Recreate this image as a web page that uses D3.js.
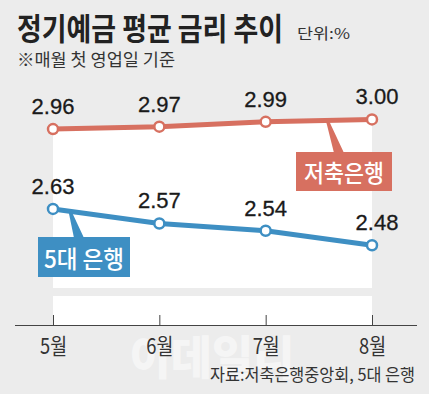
<!DOCTYPE html>
<html>
<head>
<meta charset="utf-8">
<script src="https://cdn.jsdelivr.net/npm/d3@7"></script>
<style>
  html, body { margin: 0; padding: 0; background: #ececec; }
  svg { display: block; }
  text { font-family: "Noto Sans CJK KR", "Noto Sans", sans-serif; }
  .num { font-family: "Liberation Sans", Arial, sans-serif; }
</style>
</head>
<body>
<div id="chart"></div>
<script>
const months = ['5월', '6월', '7월', '8월'];
const savingsRates = [2.96, 2.97, 2.99, 3.00];   // 저축은행
const bigFiveRates = [2.63, 2.57, 2.54, 2.48];   // 5대 은행
const seriesNames = ['저축은행', '5대 은행'];

document.addEventListener('DOMContentLoaded', function(){
    drawChart();
});

function drawChart() {
    const W = 429, H = 394;
    const red = '#d77060', blue = '#3e8fc3';
    const svg = d3.select('#chart').append('svg').attr('width', W).attr('height', H);

    svg.append('rect').attr('width', W).attr('height', H).attr('fill', '#ececec');

    let x = d3.scalePoint().domain(months).range([53, 372]);
    let y = d3.scaleLinear().domain([2.4, 3.05]).range([264.6, 107.3]);

    // titles
    svg.append('text').attr('x', 17).attr('y', 40)
        .attr('font-size', 31).attr('font-weight', 700).attr('fill', '#222')
        .attr('textLength', 266).attr('lengthAdjust', 'spacingAndGlyphs')
        .text('정기예금 평균 금리 추이');
    svg.append('text').attr('x', 297).attr('y', 39)
        .attr('font-size', 15).attr('fill', '#333')
        .attr('textLength', 53).attr('lengthAdjust', 'spacingAndGlyphs')
        .text('단위:%');
    svg.append('text').attr('x', 17).attr('y', 66)
        .attr('font-size', 17).attr('fill', '#333')
        .attr('textLength', 158).attr('lengthAdjust', 'spacingAndGlyphs')
        .text('※매월 첫 영업일 기준');

    // white panel under the top line, plus lower strip
    const area = d3.area()
        .x(function(d, i) { return x(months[i]); })
        .y0(288)
        .y1(function(d) { return y(d); });
    svg.append('path').datum(savingsRates).attr('d', area).attr('fill', '#fff');
    svg.append('rect')
        .attr('x', x(months[0])).attr('y', 296)
        .attr('width', x(months[3]) - x(months[0])).attr('height', 29)
        .attr('fill', '#fff');

    // watermark
    svg.append('text').attr('x', 212).attr('y', 374).attr('text-anchor', 'middle')
        .attr('font-size', 46).attr('font-weight', 900).attr('fill', '#fff').attr('opacity', 0.5)
        .attr('textLength', 165).attr('lengthAdjust', 'spacingAndGlyphs')
        .text('이데일리');

    // axis
    const axis = svg.append('g').attr('transform', 'translate(0,325)')
        .call(d3.axisBottom(x).tickSize(-10).tickSizeOuter(0));
    axis.select('.domain').remove();
    axis.selectAll('.tick line').attr('stroke', '#444');
    axis.selectAll('.tick text')
        .attr('y', 29).attr('dy', 0)
        .attr('font-size', 22).attr('fill', '#333')
        .attr('font-family', '"Noto Sans CJK KR", sans-serif')
        .attr('textLength', 27).attr('lengthAdjust', 'spacingAndGlyphs');
    svg.append('line').attr('x1', 15).attr('x2', 417).attr('y1', 325.5).attr('y2', 325.5)
        .attr('stroke', '#444').attr('stroke-width', 1.2);

    // callouts
    function callout(series, seg, t, box, color, label) {
        const x0 = x(months[seg]), x1 = x(months[seg + 1]);
        const px = x0 + (x1 - x0) * t;
        const py = y(series[seg]) + (y(series[seg + 1]) - y(series[seg])) * t;
        const bx = box.tip;
        svg.append('path')
            .attr('d', 'M' + (px - 1.5) + ',' + py + 'L' + (px + 1.5) + ',' + py +
                'L' + (bx + 6) + ',' + (box.y + 1) + 'L' + (bx - 4) + ',' + (box.y + 1) + 'Z')
            .attr('fill', color);
        svg.append('rect').attr('x', box.x).attr('y', box.y)
            .attr('width', box.w).attr('height', box.h).attr('fill', color);
        svg.append('text').attr('x', box.x + box.w / 2).attr('y', box.y + box.h - 9)
            .attr('text-anchor', 'middle').attr('font-size', 24).attr('font-weight', 500)
            .attr('fill', '#fff')
            .attr('textLength', 80).attr('lengthAdjust', 'spacingAndGlyphs')
            .text(label);
    }
    callout(savingsRates, 2, 0.58, {x: 296, y: 152, w: 96, h: 39, tip: 338}, red, seriesNames[0]);
    callout(bigFiveRates, 0, 0.16, {x: 38, y: 237, w: 92, h: 40, tip: 78}, blue, seriesNames[1]);

    // lines and points
    const line = d3.line()
        .x(function(d, i) { return x(months[i]); })
        .y(function(d) { return y(d); });

    [[savingsRates, red], [bigFiveRates, blue]].forEach(function(s) {
        const g = svg.append('g');
        g.append('path').datum(s[0]).attr('d', line)
            .attr('fill', 'none').attr('stroke', s[1]).attr('stroke-width', 5);
        g.selectAll('circle').data(s[0]).enter().append('circle')
            .attr('cx', function(d, i) { return x(months[i]); })
            .attr('cy', function(d) { return y(d); })
            .attr('r', 5)
            .attr('fill', '#fff').attr('stroke', s[1]).attr('stroke-width', 2.5);
        g.selectAll('text').data(s[0]).enter().append('text')
            .attr('class', 'num')
            .attr('x', function(d, i) { return x(months[i]) + (i === 3 ? 5 : 0); })
            .attr('y', function(d) { return y(d) - 15; })
            .attr('text-anchor', 'middle')
            .attr('font-size', 22).attr('fill', '#1a1a1a')
            .attr('stroke', '#1a1a1a').attr('stroke-width', 0.3)
            .text(function(d) { return d.toFixed(2); });
    });

    // source
    svg.append('text').attr('x', 415).attr('y', 381).attr('text-anchor', 'end')
        .attr('font-size', 17).attr('fill', '#333')
        .attr('textLength', 205).attr('lengthAdjust', 'spacingAndGlyphs')
        .text('자료:저축은행중앙회, 5대 은행');
}
</script>
</body>
</html>
